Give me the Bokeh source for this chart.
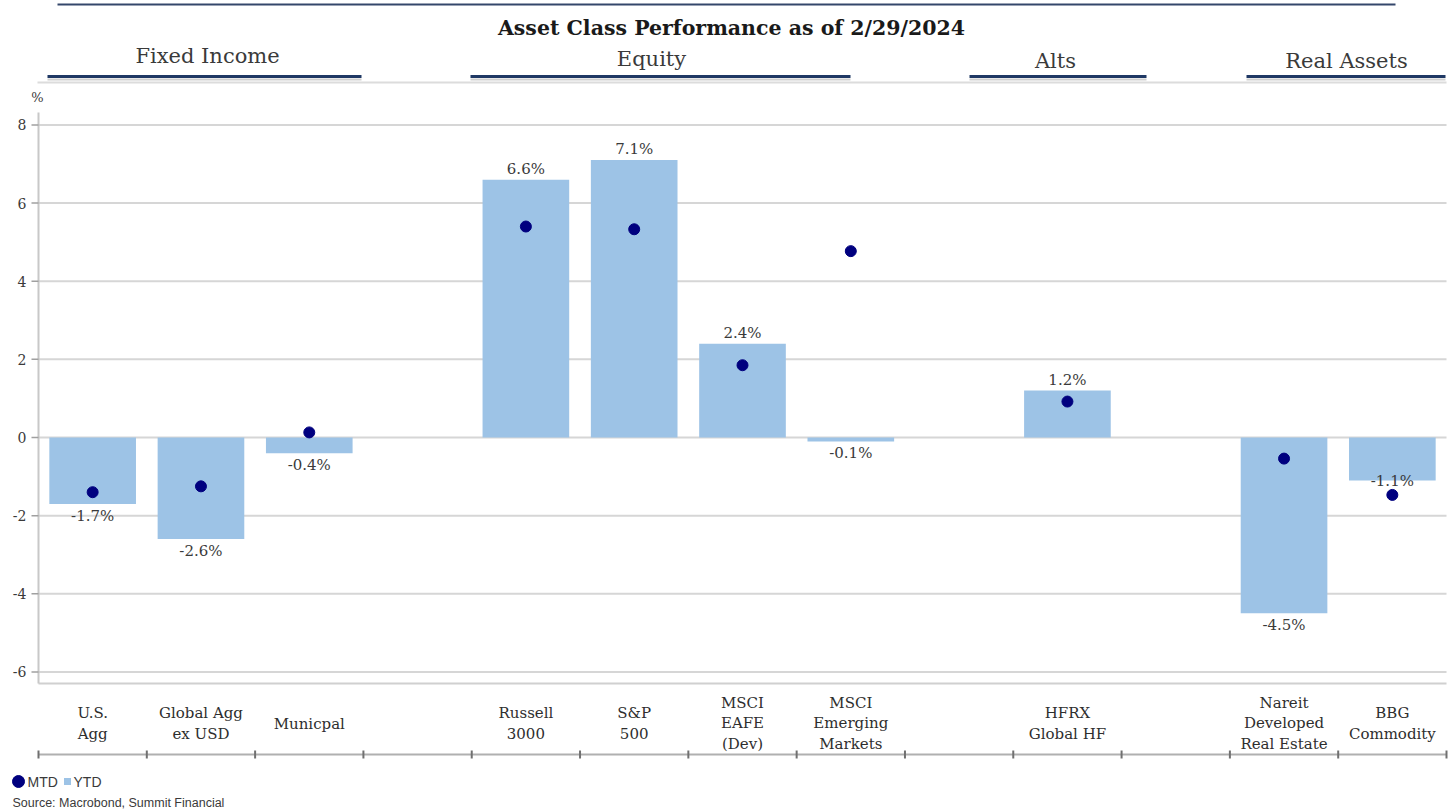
from bokeh.plotting import figure
from bokeh.models import Range1d
from bokeh.core.properties import value
from bokeh.embed import file_html
from bokeh.resources import INLINE

# ---------------- data ----------------
title_text = "Asset Class Performance as of 2/29/2024"
groups = ["Fixed Income", "Equity", "Alts", "Real Assets"]
categories = ["U.S.\nAgg", "Global Agg\nex USD", "Municpal", "",
              "Russell\n3000", "S&P\n500", "MSCI\nEAFE\n(Dev)", "MSCI\nEmerging\nMarkets", "",
              "HFRX\nGlobal HF", "",
              "Nareit\nDeveloped\nReal Estate", "BBG\nCommodity"]
ytd = [-1.7, -2.6, -0.4, None, 6.6, 7.1, 2.4, -0.1, None, 1.2, None, -4.5, -1.1]
mtd = [-1.40, -1.25, 0.13, None, 5.40, 5.33, 1.85, 4.77, None, 0.92, None, -0.54, -1.47]
y_ticks = [-6, -4, -2, 0, 2, 4, 6, 8]
y_unit = "%"
legend_labels = ["MTD", "YTD"]
source_text = "Source: Macrobond, Summit Financial"

# ---------------- layout constants ----------------
SERIF = value("DejaVu Serif")
SANS = value("Liberation Sans")
NAVY = "#00007f"
BAR = "#9dc3e6"
TXT = "#3a3a3a"
GRID = "#d6d6d6"
W, H = 1452, 810
PLOT_L, PLOT_R = 38, 1446          # plot area, page pixels
ZERO_Y, PX_PER_UNIT = 437, 39.07   # page y of value 0, pixels per percentage point
PLOT_TOP, PLOT_BOT = 112, 683
N = len(categories)
SLOT = (PLOT_R - PLOT_L) / N
LABEL_NUDGE = {12: -11}            # label moved up to dodge the dot (as in the original)


def sx(page_x):
    return (page_x - PLOT_L) / SLOT


def vy(page_y):
    return (ZERO_Y - page_y) / PX_PER_UNIT


p = figure(width=W, height=H, x_range=Range1d(sx(0), sx(W)), y_range=Range1d(vy(H), vy(0)),
           x_axis_type=None, y_axis_type=None, toolbar_location=None, output_backend="svg",
           min_border=0)
p.grid.visible = False
p.outline_line_color = None
p.background_fill_color = "white"
p.border_fill_color = "white"

# ---------------- header ----------------
p.segment(x0=[sx(57)], x1=[sx(1395)], y0=[vy(4)], y1=[vy(4)], line_color="#34476b", line_width=2)
p.text(x=[sx(731)], y=[vy(27)], text=[title_text], text_font=SERIF, text_font_size="20.5px",
       text_font_style="bold", text_align="center", text_baseline="middle", text_color="#1a1a1a")
g_cx = [207, 651, 1055, 1346]
g_cy = [55, 58, 60, 60]
g_x0 = [47, 470, 969, 1246]
g_x1 = [361, 850, 1146, 1445]
p.text(x=[sx(v) for v in g_cx], y=[vy(v) for v in g_cy], text=groups, text_font=SERIF,
       text_font_size="21px", text_align="center", text_baseline="middle", text_color=TXT)
p.segment(x0=[sx(37)], x1=[N], y0=[vy(82)], y1=[vy(82)], line_color="#dcdcdc", line_width=2)
p.segment(x0=[sx(v) for v in g_x0], x1=[sx(v) for v in g_x1], y0=[vy(79)] * 4, y1=[vy(79)] * 4,
          line_color="#d0d0d0", line_width=2)
p.segment(x0=[sx(v) for v in g_x0], x1=[sx(v) for v in g_x1], y0=[vy(76)] * 4, y1=[vy(76)] * 4,
          line_color="#1f3864", line_width=3)

# ---------------- value axis (drawn through the data scale) ----------------
p.text(x=[sx(37)], y=[vy(97)], text=[y_unit], text_font=SERIF, text_font_size="13px",
       text_align="center", text_baseline="middle", text_color=TXT)
p.segment(x0=[0] * len(y_ticks), x1=[N] * len(y_ticks), y0=y_ticks, y1=y_ticks,
          line_color=GRID, line_width=2)
p.segment(x0=[0], x1=[N], y0=[vy(PLOT_BOT)], y1=[vy(PLOT_BOT)], line_color="#d0d0d0", line_width=2)
p.segment(x0=[0], x1=[0], y0=[vy(PLOT_TOP)], y1=[vy(PLOT_BOT)], line_color="#c8c8c8", line_width=2)
p.segment(x0=[sx(31)] * len(y_ticks), x1=[0] * len(y_ticks), y0=y_ticks, y1=y_ticks,
          line_color="#a0a0a0", line_width=1.5)
p.text(x=[sx(26)] * len(y_ticks), y=y_ticks, text=[str(t) for t in y_ticks], text_font=SERIF,
       text_font_size="14px", text_align="right", text_baseline="middle", text_color=TXT)

# ---------------- bars, dots, labels ----------------
idx = [i for i in range(N) if ytd[i] is not None]
xc = [i + 0.5 for i in idx]
p.vbar(x=xc, top=[ytd[i] for i in idx], bottom=0, width=0.8, fill_color=BAR, line_color=None)
p.scatter(x=xc, y=[mtd[i] for i in idx], size=11, fill_color=NAVY, line_color=NAVY)

pos = [i for i in idx if ytd[i] >= 0]
neg = [i for i in idx if ytd[i] < 0]
p.text(x=[i + 0.5 for i in pos], y=[ytd[i] for i in pos], text=[f"{ytd[i]:.1f}%" for i in pos],
       text_font=SERIF, text_font_size="15px", text_align="center", text_baseline="bottom",
       y_offset=-2, text_color=TXT)
p.text(x=[i + 0.5 for i in neg], y=[ytd[i] for i in neg], text=[f"{ytd[i]:.1f}%" for i in neg],
       text_font=SERIF, text_font_size="15px", text_align="center", text_baseline="top",
       y_offset=[3 + LABEL_NUDGE.get(i, 0) for i in neg], text_color=TXT)

# ---------------- category axis ----------------
p.text(x=[i + 0.5 for i in range(N)], y=[vy(723)] * N, text=categories, text_font=SERIF,
       text_font_size="15px", text_align="center", text_baseline="middle",
       text_line_height=1.15, text_color="#2e2e2e")
p.segment(x0=[0], x1=[N], y0=[vy(754)], y1=[vy(754)], line_color="#b0b0b0", line_width=2)
p.segment(x0=list(range(N + 1)), x1=list(range(N + 1)), y0=[vy(750)] * (N + 1),
          y1=[vy(758)] * (N + 1), line_color="#707070", line_width=2)

# ---------------- legend and source ----------------
ly = vy(781)
p.scatter(x=[sx(18)], y=[ly], size=12, fill_color=NAVY, line_color=NAVY)
p.scatter(x=[sx(67)], y=[ly], size=7, marker="square", fill_color=BAR, line_color=None)
p.text(x=[sx(27), sx(73)], y=[ly, ly], text=legend_labels, text_font=SANS,
       text_font_size="14px", text_align="left", text_baseline="middle", text_color=TXT)
p.text(x=[sx(12)], y=[vy(802)], text=[source_text], text_font=SANS, text_font_size="12.5px",
       text_align="left", text_baseline="middle", text_color=TXT)

open("out.html", "w").write(file_html(p, INLINE))
